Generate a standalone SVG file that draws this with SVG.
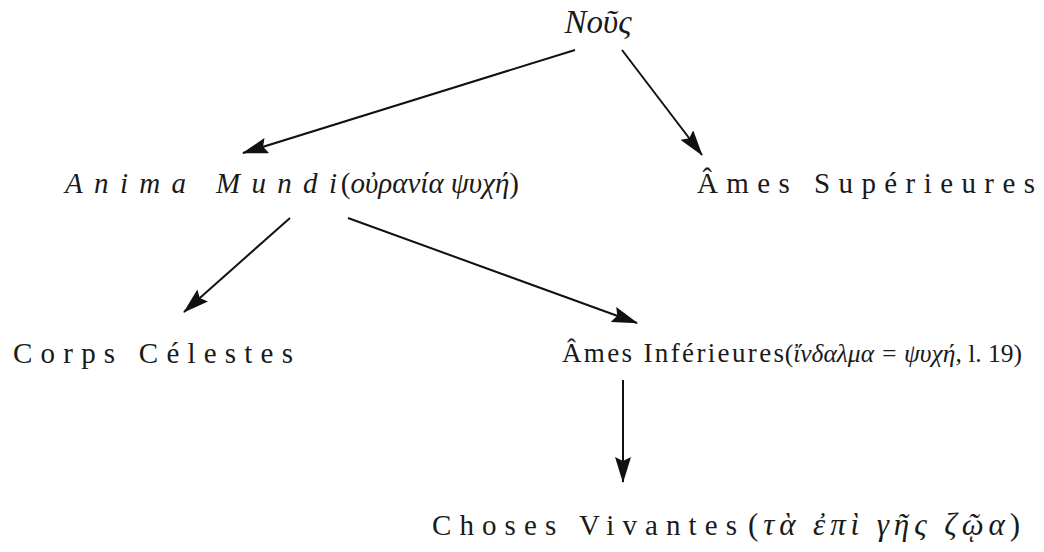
<svg xmlns="http://www.w3.org/2000/svg" width="1044" height="552" viewBox="0 0 1044 552">
<style>
.t{font-family:"Liberation Serif","DejaVu Serif",serif;font-size:29px;fill:#1a1a1a}
.i{font-style:italic}
.g{font-family:"Liberation Serif","DejaVu Serif",serif;font-size:29px;fill:#1a1a1a}
.c{stroke:#111;stroke-width:2;fill:none}
</style>
<defs>
<marker id="a" viewBox="0 0 26 16" refX="25" refY="8" markerWidth="26" markerHeight="16" markerUnits="userSpaceOnUse" orient="auto">
<path d="M0,0 L26,8 L0,16 L4,8 Z" fill="#111"/>
</marker>
</defs>
<rect width="1044" height="552" fill="#fff"/>
<g id="connectors">
<line class="c" x1="575" y1="50" x2="243" y2="153" marker-end="url(#a)"/>
<line class="c" x1="622" y1="50" x2="702" y2="155" marker-end="url(#a)"/>
<line class="c" x1="290" y1="218" x2="184" y2="312" marker-end="url(#a)"/>
<line class="c" x1="348" y1="218" x2="637" y2="323" marker-end="url(#a)"/>
<line class="c" x1="623" y1="380" x2="623" y2="482" marker-end="url(#a)"/>
</g>
<g id="nous">
<text class="t i" x="598" y="33" text-anchor="middle" style="font-size:33px">Νοῦς</text>
</g>
<g id="anima-mundi">
<text class="t i" x="65" y="193" textLength="272" lengthAdjust="spacing">Anima Mundi</text>
<text class="g" x="519" y="193" text-anchor="end">(<tspan class="i">οὐρανία ψυχή</tspan>)</text>
</g>
<g id="ames-superieures">
<text class="t" x="697" y="193" textLength="338" lengthAdjust="spacing">Âmes Supérieures</text>
</g>
<g id="corps-celestes">
<text class="t" x="13" y="363" textLength="280" lengthAdjust="spacing">Corps Célestes</text>
</g>
<g id="ames-inferieures">
<text class="t" x="562" y="362" textLength="222" lengthAdjust="spacing" style="font-size:27px">Âmes Inférieures</text>
<text class="g" x="1022" y="362" text-anchor="end" style="font-size:25.5px">(<tspan class="i">ἴνδαλμα = ψυχή</tspan>, l. 19)</text>
</g>
<g id="choses-vivantes">
<text class="t" x="432" y="535" textLength="305" lengthAdjust="spacing">Choses Vivantes</text>
<text class="g" x="748" y="535" textLength="272" lengthAdjust="spacing" style="font-size:31px">(<tspan class="i">τὰ ἐπὶ γῆς ζῷα</tspan>)</text>
</g>
</svg>
